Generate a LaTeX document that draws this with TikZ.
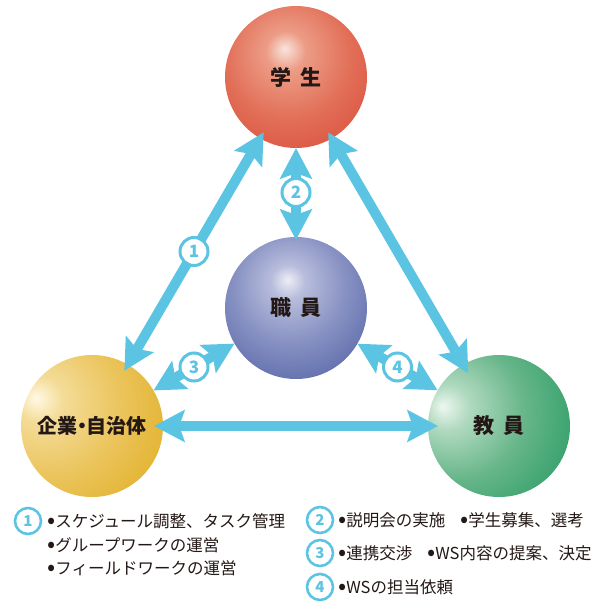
\documentclass[tikz,border=0pt]{standalone}
\usepackage{fontspec}
\setmainfont{Noto Sans CJK JP}
\newfontfamily\jp{Noto Sans CJK JP}
\usetikzlibrary{arrows.meta}
\definecolor{arrowblue}{HTML}{5BC4E2}
\definecolor{ink}{HTML}{231815}
\definecolor{rA}{HTML}{F9E4DC}\definecolor{rB}{HTML}{EC9C86}\definecolor{rC}{HTML}{E26F58}\definecolor{rD}{HTML}{DA4F3C}\definecolor{rE}{HTML}{C92A28}
\definecolor{bA}{HTML}{EEEEF7}\definecolor{bB}{HTML}{B8BDDC}\definecolor{bC}{HTML}{8690C2}\definecolor{bD}{HTML}{5868A8}\definecolor{bE}{HTML}{234488}
\definecolor{yA}{HTML}{FFF9E6}\definecolor{yB}{HTML}{F4DC98}\definecolor{yC}{HTML}{EBC55E}\definecolor{yD}{HTML}{E1AF26}\definecolor{yE}{HTML}{D6A300}
\definecolor{gA}{HTML}{EEF7F1}\definecolor{gB}{HTML}{AFD9BE}\definecolor{gC}{HTML}{66B589}\definecolor{gD}{HTML}{279B63}\definecolor{gE}{HTML}{008F57}
\pgfdeclareradialshading{redball}{\pgfpoint{-4bp}{10bp}}{color(0bp)=(rA); color(7bp)=(rB); color(22bp)=(rC); color(38bp)=(rD); color(54bp)=(rE); color(80bp)=(rE)}
\pgfdeclareradialshading{blueball}{\pgfpoint{-3bp}{10bp}}{color(0bp)=(bA); color(6bp)=(bB); color(20bp)=(bC); color(36bp)=(bD); color(52bp)=(bE); color(80bp)=(bE)}
\pgfdeclareradialshading{yellowball}{\pgfpoint{-20bp}{10bp}}{color(0bp)=(yA); color(8bp)=(yB); color(24bp)=(yC); color(44bp)=(yD); color(60bp)=(yE); color(90bp)=(yE)}
\pgfdeclareradialshading{greenball}{\pgfpoint{-20bp}{7bp}}{color(0bp)=(gA); color(8bp)=(gB); color(24bp)=(gC); color(44bp)=(gD); color(60bp)=(gE); color(90bp)=(gE)}
\newcommand\mybul{\raisebox{-1.8pt}{\fontsize{24pt}{24pt}\selectfont •}}
\tikzset{
  ball/.style={circle, minimum size=142pt, inner sep=0pt, text=ink,
    font=\jp\bfseries\fontsize{21pt}{21pt}\selectfont},
  link/.style={draw=arrowblue, line width=10pt,
    {Stealth[length=31pt,width=33pt,inset=6pt,line width=0pt 0 0]}-{Stealth[length=31pt,width=33pt,inset=6pt,line width=0pt 0 0]}},
  numc/.style={circle, fill=white, draw=arrowblue, line width=3pt, minimum size=28pt,
    inner sep=0pt, text=arrowblue, font=\jp\bfseries\fontsize{17pt}{17pt}\selectfont},
  numcs/.style={numc, line width=2.6pt, minimum size=26pt, font=\jp\bfseries\fontsize{15pt}{15pt}\selectfont},
  legend/.style={anchor=west, inner sep=0pt, text=ink, font=\jp\fontsize{16.5pt}{16.5pt}\selectfont},
}
\begin{document}
\begin{tikzpicture}[x=1pt,y=-1pt]
\useasboundingbox (0,0) rectangle (602,602);
% spheres
\node[ball, shade, shading=redball] (stu) at (296,77) {学\hspace{0.45em}生};
\node[ball, shade, shading=blueball] (staff) at (296,308) {職\hspace{0.45em}員};
\node[ball, shade, shading=yellowball, font=\jp\bfseries\fontsize{20pt}{20pt}\selectfont] (comp) at (92,426) {企業\hspace{-0.28em}・\hspace{-0.28em}自治体};
\node[ball, shade, shading=greenball] (fac) at (499,426) {教\hspace{0.45em}員};
% connectors
\draw[link, shorten <=-7pt, shorten >=-7pt] (comp) -- node[numc] (n1) {1} (stu);
\draw[link, shorten <=-7pt, shorten >=-10pt] (stu) -- (fac);
\draw[link, shorten <=0pt, shorten >=-3pt] (stu) -- node[numc] (n2) {2} (staff);
\draw[link] (staff) -- node[numc] (n3) {3} (comp);
\draw[link] (staff) -- node[numc] (n4) {4} (fac);
\draw[link, shorten <=-9pt, shorten >=-10pt] (comp) -- (fac);
% legend
\node[numcs] (l1) at (28,521) {1};
\node[legend] (t1a) at (47,521) {\mybul スケジュール調整、タスク管理};
\node[legend] (t1b) at (47,545) {\mybul グループワークの運営};
\node[legend] (t1c) at (47,568) {\mybul フィールドワークの運営};
\node[numcs] (l2) at (320,520) {2};
\node[legend] (t2) at (338,520) {\mybul 説明会の実施\hspace{0.9em}\mybul 学生募集、選考};
\node[numcs] (l3) at (320,553) {3};
\node[legend] (t3) at (338,553) {\mybul 連携交渉\hspace{0.9em}\mybul WS内容の提案、決定};
\node[numcs] (l4) at (320,587) {4};
\node[legend] (t4) at (338,587) {\mybul WSの担当依頼};
\end{tikzpicture}
\end{document}
